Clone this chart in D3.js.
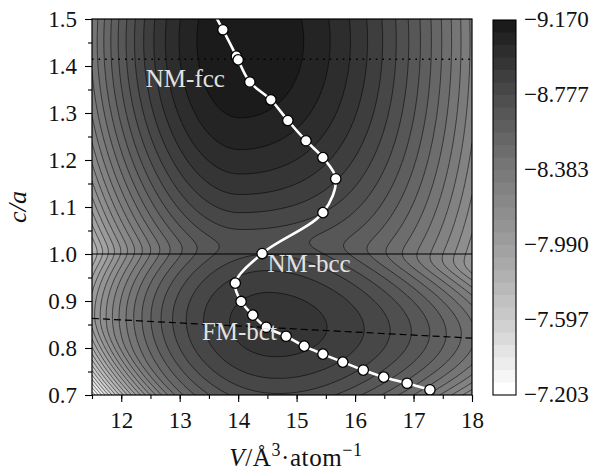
<!DOCTYPE html>
<html>
<head>
<meta charset="utf-8">
<script src="https://cdn.jsdelivr.net/npm/d3@7"></script>
<style>
  body { margin: 0; background: #fff; }
</style>
</head>
<body>
<svg id="chart" width="613" height="472"></svg>
<script>
const serif = 'Liberation Serif';

// colour bar range and its labels (eV/atom)
const eMin = -9.170, eMax = -7.203;
const nBands = 30;
const barTicks = [-9.170, -8.777, -8.383, -7.990, -7.597, -7.203];

const xTicks = [12, 13, 14, 15, 16, 17, 18];
const yTicks = [0.7, 0.8, 0.9, 1.0, 1.1, 1.2, 1.3, 1.4, 1.5];

// the two wells of the energy surface (NM-fcc, FM-bct)
const wellV = [14.03, 14.58];        // volume of the minimum
const wellCA = [1.453, 0.850];       // c/a of the minimum
const wellTilt = [0, -0.0065];       // shift of that c/a per unit V
const wellE = [-9.17, -8.944];       // energy at the minimum
const wellKL = [0.121, 0.06];        // stiffness on the compressed side
const wellCL = [0, 0.2];             // extra stiffening on that side
const wellKR = [0.055, 0.041];       // stiffness on the expanded side
const wellKCA = [2.46, 7.8];         // stiffness in c/a
const wellGL = [0.04, 0.105];        // change of that stiffness, compressed side
const wellGR = [-0.08, 0.14];        // change of that stiffness, expanded side
const mixT = 0.05;
// steep rise in the compressed corner
const wallA = 0.37, wallLV = 1.6, wallLCA = 0.17, wallP = 1.5;

// transition path (white line with markers)
const pathV = [13.55, 13.74, 13.97, 14.00, 14.20, 14.56, 14.85, 15.16, 15.45, 15.67, 15.45, 14.41,
  13.95, 14.05, 14.25, 14.48, 14.82, 15.13, 15.45, 15.79, 16.14, 16.49, 16.89, 17.28];
const pathCA = [1.52, 1.477, 1.421, 1.413, 1.366, 1.328, 1.284, 1.241, 1.205, 1.160, 1.088, 1.001,
  0.938, 0.899, 0.870, 0.844, 0.825, 0.804, 0.787, 0.770, 0.753, 0.738, 0.725, 0.711];

// reference lines
const fccCA = Math.SQRT2, bccCA = 1.0;
const bctLineV = [11.5, 18], bctLineCA = [0.863, 0.821];

const labels = [
  {text: 'NM-fcc', v: 12.42, ca: 1.355},
  {text: 'NM-bcc', v: 14.50, ca: 0.962},
  {text: 'FM-bct', v: 13.38, ca: 0.818}
];

const svg = d3.select('#chart');
const margin = {left: 92, top: 19, right: 141, bottom: 77};
const W = 613, H = 472;
const x = d3.scaleLinear().domain([11.5, 18]).range([margin.left, W - margin.right]);
const y = d3.scaleLinear().domain([0.7, 1.5]).range([H - margin.bottom, margin.top]);

function wellEnergy(j, v, ca) {
  const dv = v - wellV[j];
  const dc = ca - (wellCA[j] + wellTilt[j] * dv);
  const d2 = dv * dv;
  let ev, kca;
  if (dv < 0) {
    ev = wellKL[j] * d2 * (1 - wellCL[j] * dv);
    kca = wellKCA[j] * (1 + wellGL[j] * d2);
  } else {
    ev = wellKR[j] * d2;
    kca = wellGR[j] < 0
      ? wellKCA[j] / (1 - wellGR[j] * d2)
      : wellKCA[j] * (1 + wellGR[j] * d2);
  }
  return wellE[j] + ev + kca * dc * dc;
}

function energy(v, ca) {
  const e = wellV.map((_, j) => wellEnergy(j, v, ca));
  const m = d3.min(e);
  const s = d3.sum(e, d => Math.exp(-(d - m) / mixT));
  const w = Math.max(0, 1 - (v - 11.5) / wallLV - (ca - 0.7) / wallLCA);
  return m - mixT * Math.log(s) + wallA * Math.pow(w, wallP);
}

// sample the surface
const nx = 261, ny = 321;
const dv = 6.5 / (nx - 1), dca = 0.8 / (ny - 1);
const values = new Float64Array(nx * ny);
for (let j = 0; j < ny; j++) {
  for (let i = 0; i < nx; i++) {
    values[j * nx + i] = energy(11.5 + i * dv, 0.7 + j * dca);
  }
}

const step = (eMax - eMin) / nBands;
const levels = d3.range(nBands + 1).map(i => eMin + i * step);
const grey = d3.scaleLinear()
  .domain([0, 0.2, 0.4, 0.6, 0.8, 1])
  .range(['#1b1b1b', '#4e4e4e', '#797979', '#9d9d9d', '#cacaca', '#ffffff']);
const bandColor = i => grey(i / (nBands - 1));

const contours = d3.contours().size([nx, ny]).thresholds(levels.slice(0, nBands))(values);
const proj = d3.geoTransform({
  point(px, py) {
    this.stream.point(x(11.5 + (px - 0.5) * dv), y(0.7 + (py - 0.5) * dca));
  }
});
const geo = d3.geoPath(proj);

const defs = svg.append('defs');
defs.append('clipPath').attr('id', 'plot-clip')
  .append('rect')
  .attr('x', x(11.5)).attr('y', y(1.5))
  .attr('width', x(18) - x(11.5)).attr('height', y(0.7) - y(1.5));

const plot = svg.append('g').attr('clip-path', 'url(#plot-clip)');
plot.append('rect')
  .attr('x', x(11.5)).attr('y', y(1.5))
  .attr('width', x(18) - x(11.5)).attr('height', y(0.7) - y(1.5))
  .attr('fill', bandColor(0));

plot.selectAll('.band')
  .data(contours)
  .enter().append('path')
  .attr('class', 'band')
  .attr('d', geo)
  .attr('fill', (d, i) => bandColor(i));

plot.selectAll('.iso')
  .data(contours.slice(1))
  .enter().append('path')
  .attr('class', 'iso')
  .attr('d', geo)
  .attr('fill', 'none')
  .attr('stroke', '#000')
  .attr('stroke-width', 0.55);

// reference lines
plot.append('line')
  .attr('x1', x(11.5)).attr('x2', x(18))
  .attr('y1', y(fccCA)).attr('y2', y(fccCA))
  .attr('stroke', '#000').attr('stroke-width', 1.4)
  .attr('stroke-dasharray', '1.6,5');
plot.append('line')
  .attr('x1', x(11.5)).attr('x2', x(18))
  .attr('y1', y(bccCA)).attr('y2', y(bccCA))
  .attr('stroke', '#000').attr('stroke-width', 1.2);
plot.append('line')
  .attr('x1', x(bctLineV[0])).attr('x2', x(bctLineV[1]))
  .attr('y1', y(bctLineCA[0])).attr('y2', y(bctLineCA[1]))
  .attr('stroke', '#000').attr('stroke-width', 1.2)
  .attr('stroke-dasharray', '7,4');

// path with markers
const pathPts = pathV.map((v, i) => ({v, ca: pathCA[i]}));
const line = d3.line().curve(d3.curveCatmullRom).x(d => x(d.v)).y(d => y(d.ca));
plot.append('path')
  .attr('d', line(pathPts))
  .attr('fill', 'none')
  .attr('stroke', '#fff')
  .attr('stroke-width', 2.6);
plot.selectAll('.mark')
  .data(pathPts.filter(d => d.ca <= 1.5))
  .enter().append('circle')
  .attr('class', 'mark')
  .attr('cx', d => x(d.v)).attr('cy', d => y(d.ca))
  .attr('r', 5.2)
  .attr('fill', '#fff')
  .attr('stroke', '#000')
  .attr('stroke-width', 1.3);

svg.selectAll('.lab')
  .data(labels)
  .enter().append('text')
  .attr('class', 'lab')
  .attr('x', d => x(d.v)).attr('y', d => y(d.ca))
  .style('font-family', serif)
  .style('font-size', '25px')
  .style('fill', '#e2e2e2')
  .text(d => d.text);

// frame
svg.append('rect')
  .attr('x', x(11.5)).attr('y', y(1.5))
  .attr('width', x(18) - x(11.5)).attr('height', y(0.7) - y(1.5))
  .attr('fill', 'none').attr('stroke', '#000').attr('stroke-width', 1.2);

// axes
function styleAxis(g) {
  g.attr('font-family', null).attr('font-size', null);
  g.select('.domain').remove();
  g.selectAll('line').attr('stroke', '#000').attr('stroke-width', 1.1);
  g.selectAll('text')
    .style('font-family', serif)
    .style('font-size', '23px')
    .style('fill', '#111');
}
const xMinor = d3.range(11.5, 18.01, 0.5);
const yMinor = d3.range(0.75, 1.5, 0.1);
svg.append('g')
  .attr('transform', `translate(0,${y(0.7)})`)
  .call(d3.axisBottom(x).tickValues(xMinor).tickSize(4).tickFormat(''))
  .call(styleAxis);
svg.append('g')
  .attr('transform', `translate(0,${y(0.7)})`)
  .call(d3.axisBottom(x).tickValues(xTicks).tickSize(7).tickPadding(10).tickFormat(d3.format('d')))
  .call(styleAxis);
svg.append('g')
  .attr('transform', `translate(${x(11.5)},0)`)
  .call(d3.axisLeft(y).tickValues(yMinor).tickSize(4).tickFormat(''))
  .call(styleAxis);
svg.append('g')
  .attr('transform', `translate(${x(11.5)},0)`)
  .call(d3.axisLeft(y).tickValues(yTicks).tickSize(7).tickPadding(8).tickFormat(d3.format('.1f')))
  .call(styleAxis);

// axis titles
svg.append('text')
  .attr('transform', `translate(26,${(y(0.7) + y(1.5)) / 2}) rotate(-90)`)
  .attr('text-anchor', 'middle')
  .style('font-family', serif)
  .style('font-size', '26px')
  .style('font-style', 'italic')
  .style('fill', '#111')
  .text('c/a');

const xt = svg.append('text')
  .attr('x', 296).attr('y', 466)
  .attr('text-anchor', 'middle')
  .style('font-family', serif)
  .style('font-size', '25px')
  .style('letter-spacing', '0.6px')
  .style('fill', '#111');
xt.append('tspan').style('font-style', 'italic').text('V');
xt.append('tspan').text('/Å');
xt.append('tspan').attr('dy', -10).style('font-size', '18px').text('3');
xt.append('tspan').attr('dy', 10).text('·atom');
xt.append('tspan').attr('dy', -10).style('font-size', '18px').text('−1');

// colour bar
const cb = d3.scaleLinear().domain([eMin, eMax]).range([y(1.5) + 1, y(0.7)]);
const cbX = 493, cbW = 23;
svg.selectAll('.cbBand')
  .data(d3.range(nBands))
  .enter().append('rect')
  .attr('class', 'cbBand')
  .attr('x', cbX).attr('width', cbW)
  .attr('y', i => cb(levels[i]))
  .attr('height', i => cb(levels[i + 1]) - cb(levels[i]) + 0.5)
  .attr('fill', i => bandColor(i));
svg.append('rect')
  .attr('x', cbX).attr('y', cb(eMin))
  .attr('width', cbW).attr('height', cb(eMax) - cb(eMin))
  .attr('fill', 'none').attr('stroke', '#000').attr('stroke-width', 1.1);
svg.selectAll('.cbLab')
  .data(barTicks)
  .enter().append('text')
  .attr('class', 'cbLab')
  .attr('x', cbX + cbW + 8).attr('y', d => cb(d) + 7)
  .style('font-family', serif)
  .style('font-size', '23px')
  .style('fill', '#111')
  .text(d => '−' + d3.format('.3f')(-d));
</script>
</body>
</html>
